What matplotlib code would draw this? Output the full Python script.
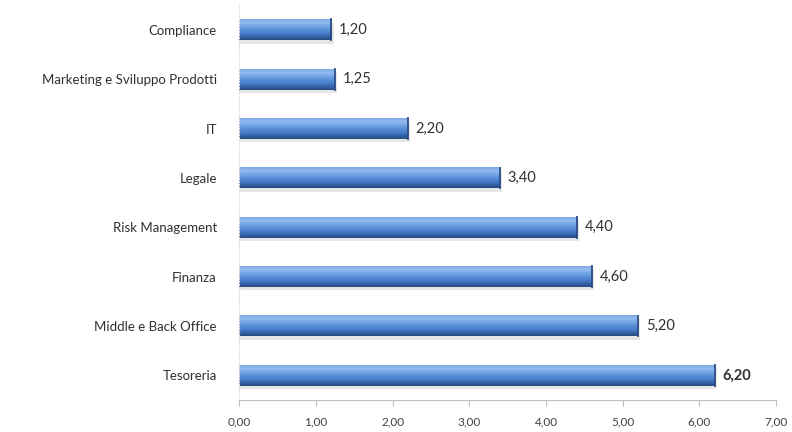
import matplotlib.pyplot as plt
import numpy as np
from matplotlib.colors import LinearSegmentedColormap

categories = ['Tesoreria', 'Middle e Back Office', 'Finanza', 'Risk Management',
              'Legale', 'IT', 'Marketing e Sviluppo Prodotti', 'Compliance']
values = [6.20, 5.20, 4.60, 4.40, 3.40, 2.20, 1.25, 1.20]
value_labels = ['6,20', '5,20', '4,60', '4,40', '3,40', '2,20', '1,25', '1,20']
xticks = [0, 1, 2, 3, 4, 5, 6, 7]
xtick_labels = ['0,00', '1,00', '2,00', '3,00', '4,00', '5,00', '6,00', '7,00']

plt.rcParams['font.family'] = ['Lato', 'DejaVu Sans']

fig = plt.figure(figsize=(7.92, 4.32), dpi=100)
ax = fig.add_axes([0.302, 0.074, 0.678, 0.914])

# vertical shading: dark bottom edge, saturated middle, light top
shade = LinearSegmentedColormap.from_list(
    'bar', ['#284a80', '#3565ad', '#4a80cc', '#5a90da', '#76a6e6', '#92bbf0', '#7fa9e6'])
grad = np.linspace(0, 1, 64).reshape(-1, 1)

h = 0.42
for i, (v, lab) in enumerate(zip(values, value_labels)):
    # soft shadow under the bar
    ax.barh(i - 0.07, v + 0.03, height=h, color='#c8c8c8', alpha=0.45, zorder=1)
    ax.imshow(grad, cmap=shade, aspect='auto', origin='lower',
              extent=(0, v, i - h / 2, i + h / 2), zorder=2)
    ax.plot([v, v], [i - h / 2, i + h / 2], color='#2a4c84', lw=1.3, zorder=3)
    ax.text(v + 0.1, i, lab, va='center', ha='left', fontsize=10.5,
            color='#303030', fontweight='bold' if i == 0 else 'normal')

ax.set_xlim(0, 7)
ax.set_ylim(-0.5, 7.5)
ax.set_yticks(range(len(categories)))
ax.set_yticklabels(categories, fontsize=9.5, color='#303030')
ax.set_xticks(xticks)
ax.set_xticklabels(xtick_labels, fontsize=8.5, color='#404040')
ax.tick_params(axis='y', length=0, pad=16)
ax.tick_params(axis='x', length=4, color='#bfbfbf', direction='out', pad=8)

for s in ['top', 'right']:
    ax.spines[s].set_visible(False)
ax.spines['bottom'].set_color('#bfbfbf')
ax.spines['left'].set_color('#e0e0e0')
ax.spines['left'].set_linestyle(':')

fig.savefig('out.png', dpi=100)
